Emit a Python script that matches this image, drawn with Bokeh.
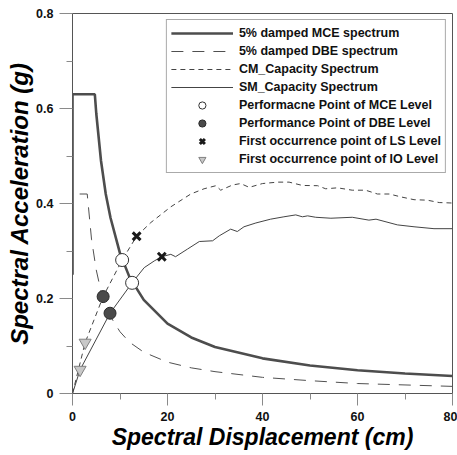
from bokeh.plotting import figure
from bokeh.models import (Range1d, FixedTicker, CustomJSTickFormatter, Legend, LegendItem)
from bokeh.embed import file_html
from bokeh.resources import INLINE

# 5% damped MCE spectrum
mce_sd = [0, 0, 4.7, 5, 6, 7, 8, 10, 12, 15, 20, 25, 30, 40, 50, 60, 70, 80]
mce_sa = [0.25, 0.63, 0.63, 0.59, 0.49, 0.42, 0.37, 0.295, 0.245, 0.197, 0.147,
          0.118, 0.098, 0.074, 0.059, 0.049, 0.042, 0.037]

# 5% damped DBE spectrum
dbe_sd = [1.5, 3.1, 4, 5, 6, 8, 10, 12, 15, 20, 25, 30, 40, 50, 60, 70, 80]
dbe_sa = [0.42, 0.42, 0.325, 0.26, 0.215, 0.162, 0.13, 0.108, 0.087, 0.066,
          0.054, 0.046, 0.034, 0.027, 0.021, 0.018, 0.015]

# CM capacity spectrum
cm_sd = [0, 2.66, 6.45, 10.45, 13.5, 16.5, 20.7, 24.9, 27.7, 30.2, 31.2, 33.7,
         35.4, 37.2, 40, 43.2, 45.6, 48.4, 51.6, 53.3, 55.8, 58.9, 61.7, 64.2,
         66.7, 69.1, 71.9, 74.7, 77.2, 80]
cm_sa = [0, 0.107, 0.204, 0.281, 0.331, 0.36, 0.393, 0.42, 0.431, 0.4375, 0.428,
         0.439, 0.442, 0.434, 0.442, 0.445, 0.445, 0.438, 0.4375, 0.431, 0.433,
         0.428, 0.428, 0.42, 0.42, 0.414, 0.408, 0.407, 0.402, 0.401]

# SM capacity spectrum
sm_sd = [0, 1.6, 7.9, 12.55, 15.1, 17.2, 18.8, 20.7, 21.7, 24.2, 26.7, 29.5,
         30.9, 33.3, 34.7, 36.1, 38.6, 41.7, 44.5, 47, 48.4, 49.5, 51.2, 54.4,
         58.9, 62.4, 63.9, 68.4, 71.9, 76.1, 80]
sm_sa = [0, 0.05, 0.169, 0.233, 0.265, 0.279, 0.288, 0.293, 0.288, 0.304, 0.32,
         0.3215, 0.332, 0.346, 0.341, 0.351, 0.359, 0.367, 0.372, 0.376, 0.372,
         0.374, 0.371, 0.369, 0.371, 0.365, 0.367, 0.355, 0.351, 0.347, 0.347]

# Points (CM, SM)
mce_pp_sd = [10.45, 12.55]
mce_pp_sa = [0.281, 0.233]
dbe_pp_sd = [6.45, 7.9]
dbe_pp_sa = [0.204, 0.169]
ls_sd = [13.5, 18.8]
ls_sa = [0.331, 0.288]
io_sd = [2.66, 1.6]
io_sa = [0.107, 0.05]

x_ticks = [0, 20, 40, 60, 80]
x_minor = [10, 30, 50, 70]
y_ticks = [0, 0.2, 0.4, 0.6, 0.8]
y_minor = [0.1, 0.3, 0.5, 0.7]

labels = ["5% damped MCE spectrum", "5% damped DBE spectrum", "CM_Capacity Spectrum",
          "SM_Capacity Spectrum", "Performacne Point of MCE Level",
          "Performance Point of DBE Level", "First occurrence point of LS Level",
          "First occurrence point of IO Level"]

FONT = "Liberation Sans"

p = figure(width=457, height=455, output_backend="svg", toolbar_location=None,
           x_range=Range1d(0, 80), y_range=Range1d(0, 0.8),
           min_border_left=72, min_border_right=5, min_border_top=13, min_border_bottom=62)
p.grid.visible = False
p.outline_line_color = "#555555"
p.outline_line_width = 1
p.background_fill_color = "white"
p.border_fill_color = "white"

p.xaxis.ticker = FixedTicker(ticks=x_ticks, minor_ticks=x_minor)
p.yaxis.ticker = FixedTicker(ticks=y_ticks, minor_ticks=y_minor)
p.yaxis.formatter = CustomJSTickFormatter(code="return tick == 0 ? '0' : tick.toFixed(1);")

for ax in (p.xaxis[0], p.yaxis[0]):
    ax.axis_line_color = "#555555"
    ax.axis_line_width = 1
    ax.major_tick_line_color = "#8a8a8a"
    ax.minor_tick_line_color = "#8a8a8a"
    ax.major_tick_in = 0
    ax.major_tick_out = 12
    ax.minor_tick_in = 0
    ax.minor_tick_out = 6
    ax.major_label_text_font = FONT
    ax.major_label_text_font_style = "bold"
    ax.major_label_text_font_size = "12.5px"
    ax.major_label_text_color = "#111111"
    ax.axis_label_text_font = FONT
    ax.axis_label_text_font_style = "bold italic"
    ax.axis_label_text_font_size = "23px"
    ax.axis_label_text_color = "#000000"
    ax.axis_label_standoff = 0
    ax.major_label_standoff = 6

p.yaxis.major_tick_out = 13
p.yaxis.axis_label_text_font_size = "24px"

p.xaxis.axis_label = "Spectral Displacement (cm)"
p.yaxis.axis_label = "Spectral Acceleration (g)"

r_cm = p.line(cm_sd, cm_sa, line_color="#444444", line_width=1, line_dash="5 4")
r_sm = p.line(sm_sd, sm_sa, line_color="#444444", line_width=1)
r_dbe = p.line(dbe_sd, dbe_sa, line_color="#505050", line_width=1, line_dash="12 9")
r_mce = p.line(mce_sd, mce_sa, line_color="#4d4d4d", line_width=2.6)

r_io = p.scatter(io_sd, io_sa, marker="inverted_triangle", size=12,
                 fill_color="#c8c8c8", line_color="#808080", line_width=1)
r_dpp = p.scatter(dbe_pp_sd, dbe_pp_sa, marker="circle", size=12,
                  fill_color="#4a4a4a", line_color="#2a2a2a", line_width=1)
r_mpp = p.scatter(mce_pp_sd, mce_pp_sa, marker="circle", size=13,
                  fill_color="white", line_color="#333333", line_width=1)
r_ls = p.scatter(ls_sd, ls_sa, marker="x", size=11, line_color="#1a1a1a", line_width=3)

renderers = [r_mce, r_dbe, r_cm, r_sm, r_mpp, r_dpp, r_ls, r_io]
legend = Legend(items=[LegendItem(label=l, renderers=[r]) for l, r in zip(labels, renderers)],
                location="top_right")
legend.margin = 6
legend.padding = 4
legend.spacing = 0
legend.glyph_height = 18
legend.glyph_width = 62
legend.label_height = 18
legend.label_standoff = 6
legend.label_text_font = FONT
legend.label_text_font_style = "bold"
legend.label_text_font_size = "12.5px"
legend.label_text_color = "#111111"
legend.border_line_color = "#555555"
legend.border_line_width = 1
legend.background_fill_color = "white"
legend.background_fill_alpha = 1
p.add_layout(legend)

open("out.html", "w").write(file_html(p, INLINE))
